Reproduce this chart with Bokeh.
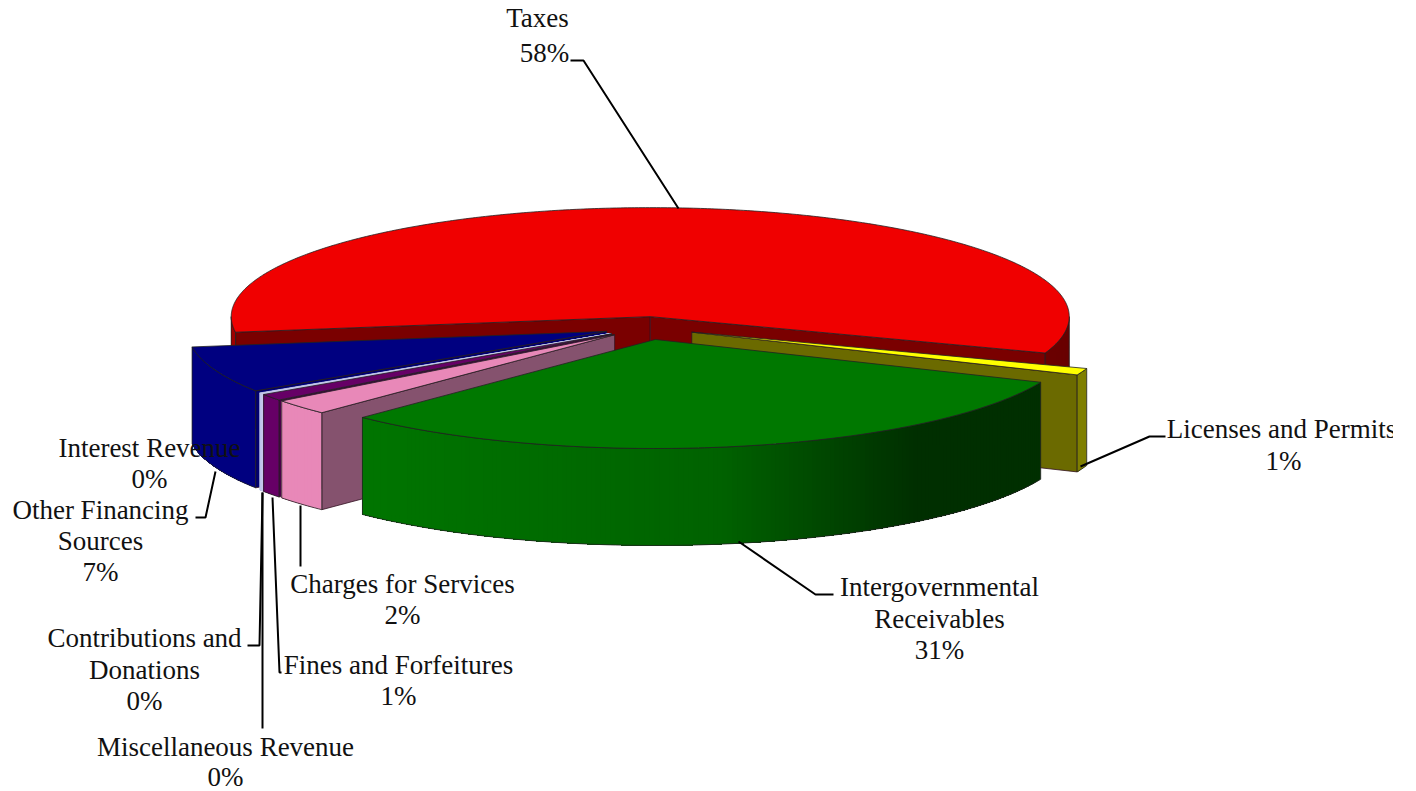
import math
from bokeh.plotting import figure
from bokeh.models import ColumnDataSource, Range1d
from bokeh.core.properties import value
from bokeh.embed import file_html
from bokeh.resources import INLINE

# Revenue shares in percent, clockwise from the first slice
categories = ["Licenses and Permits", "Intergovernmental Receivables", "Charges for Services",
              "Fines and Forfeitures", "Miscellaneous Revenue", "Contributions and Donations",
              "Interest Revenue", "Other Financing Sources", "Taxes"]
shares = [1.0, 30.9, 2.3, 1.0, 0.07, 0.07, 0.06, 6.9, 57.7]
explode = [49, 47, 42, 42, 42, 42, 42, 42, 42]
top_colors = ["#ffff00", "#007800", "#e888b8", "#660066", "#d8d8f0", "#c8d0f0", "#c0c8f0", "#000080", "#f00000"]
side_colors = ["#6b6a00", "#003000", "#85526e", "#4a004a", "#b0b0d0", "#a0a8d8", "#8080c0", "#000070", "#7a0000"]
wall_left = ["#7f7f00", "#007c00", "#e888b8", "#660066", "#c8c8ec", "#c0c8ec", "#b8c0e8", "#000080", "#a00000"]
wall_mid = ["#7f7f00", "#006200", "#e888b8", "#660066", "#c8c8ec", "#c0c8ec", "#b8c0e8", "#000080", "#800000"]
wall_right = ["#7f7f00", "#002f00", "#e888b8", "#660066", "#c8c8ec", "#c0c8ec", "#b8c0e8", "#000080", "#6a0000"]

# Slice callouts: text lines with anchor, plus the leader line of each
label_lines = [
    ("Taxes", 537, 17), ("58%", 544, 52),
    ("Licenses and Permits", 1281, 428), ("1%", 1283, 460),
    ("Intergovernmental", 939, 586), ("Receivables", 939, 618), ("31%", 939, 649),
    ("Charges for Services", 402, 583), ("2%", 402, 614),
    ("Fines and Forfeitures", 398, 664), ("1%", 398, 695),
    ("Contributions and", 144, 637), ("Donations", 144, 669), ("0%", 144, 700),
    ("Miscellaneous Revenue", 225, 746), ("0%", 225, 776),
    ("Interest Revenue", 149, 447), ("0%", 149, 478),
    ("Other Financing", 100, 509), ("Sources", 100, 540), ("7%", 100, 571),
]
leaders = [
    [(570, 60), (583, 60), (678, 208)],
    [(1080, 466), (1149, 436), (1165, 436)],
    [(738, 541), (815, 594), (833, 594)],
    [(300, 505), (300, 566)],
    [(272, 497), (279, 672), (281, 672)],
    [(262, 492), (259, 645), (247, 645)],
    [(262, 492), (262, 728)],
    [(215, 471), (205, 517), (195, 517)],
]

START_DEG = 19.5
CX, CY = 645.6, 327.0
RX, RY = 419.0, 109.0
DEPTH = 97.0
MID_STOP = 0.59
DARK_STOP = 0.82


def blend(c1, c2, t):
    a = [int(c1[i:i + 2], 16) for i in (1, 3, 5)]
    b = [int(c2[i:i + 2], 16) for i in (1, 3, 5)]
    return "#%02x%02x%02x" % tuple(round(u + (v - u) * t) for u, v in zip(a, b))


def wall_color(k, t):
    if t < MID_STOP:
        return blend(wall_left[k], wall_mid[k], t / MID_STOP)
    return blend(wall_mid[k], wall_right[k], min(1.0, (t - MID_STOP) / (DARK_STOP - MID_STOP)))


def rim(ox, oy, deg):
    r = math.radians(deg)
    return ox + RX * math.cos(r), oy + RY * math.sin(r)


p = figure(width=1393, height=791, x_range=Range1d(0, 1393), y_range=Range1d(791, 0),
           output_backend="svg", toolbar_location=None, min_border=0)
p.axis.visible = False
p.grid.visible = False
p.outline_line_color = None
p.background_fill_color = "white"
p.border_fill_color = "white"


def poly(xs, ys, fill, line="#222222", width=0.8):
    src = ColumnDataSource(dict(x=xs, y=ys))
    p.patch("x", "y", source=src, fill_color=fill, line_color=line, line_width=width)


# Angular span of each slice
total = sum(shares)
spans = []
angle = START_DEG
for s in shares:
    spans.append((angle, angle + s / total * 360.0))
    angle = spans[-1][1]

# Painter's order: slices further back first
order = sorted(range(len(shares)), key=lambda k: math.sin(math.radians(sum(spans[k]) / 2)))

for k in order:
    s, e = spans[k]
    mid = math.radians((s + e) / 2)
    ox = CX + explode[k] * math.cos(mid)
    oy = CY + explode[k] * math.sin(mid) * RY / RX
    # Hairline slices carry no dark outline, or nothing but the outline would show
    edge = "#222222" if shares[k] >= 0.5 else wall_left[k]

    # Radial walls that face the viewer
    for deg, normal in ((s, s - 90), (e, e + 90)):
        if math.sin(math.radians(normal)) > 0:
            x, y = rim(ox, oy, deg)
            poly([ox, x, x, ox], [oy, y, y + DEPTH, oy + DEPTH], side_colors[k],
                 line="#331122" if shares[k] >= 0.5 else side_colors[k])

    # Outer wall: each strip runs on to the wall's end, so the next one covers the join
    for lo, hi in ((0, 180), (360, 540)):
        a0, a1 = max(s, lo), min(e, hi)
        if a1 <= a0:
            continue
        n = max(2, int((a1 - a0) * 1.5))
        degs = [a0 + (a1 - a0) * i / n for i in range(n + 1)]
        pts = [rim(ox, oy, d) for d in degs]
        for i in range(n):
            t = min(1.0, max(0.0, ((pts[i][0] + pts[i + 1][0]) / 2 - (CX - RX)) / (2 * RX)))
            rest = pts[i:]
            xs = [q[0] for q in rest]
            poly(xs + xs[::-1], [q[1] for q in rest] + [q[1] + DEPTH for q in rest[::-1]],
                 wall_color(k, t), line=None)
        xs = [q[0] for q in pts]
        poly(xs + xs[::-1], [q[1] for q in pts] + [q[1] + DEPTH for q in pts[::-1]],
             None, line=edge)

    # Top face
    n = max(2, int((e - s) * 2))
    pts = [rim(ox, oy, s + (e - s) * i / n) for i in range(n + 1)]
    poly([ox] + [q[0] for q in pts], [oy] + [q[1] for q in pts], top_colors[k], line=edge)

for line in leaders:
    p.line([q[0] for q in line], [q[1] for q in line], line_color="black", line_width=2)

p.text([t[1] for t in label_lines], [t[2] for t in label_lines], text=[t[0] for t in label_lines],
       text_font=value("Liberation Serif"), text_font_size="27px", text_color="#111111",
       text_align="center", text_baseline="middle")

open("out.html", "w").write(file_html(p, INLINE))
